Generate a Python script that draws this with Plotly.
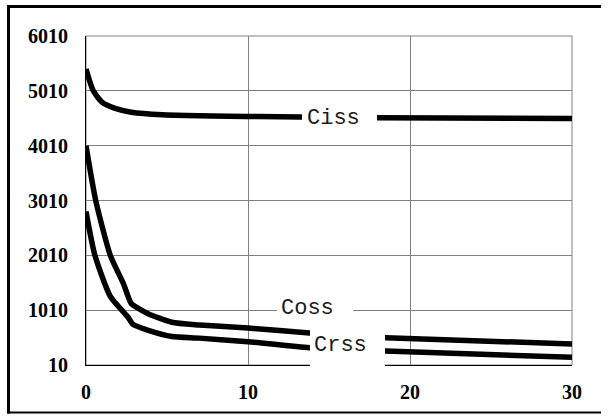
import plotly.graph_objects as go

# Data (x: 0..30, y in pF-like units)
ciss_x = [0, 0.45, 1.0, 1.8, 2.8, 4.7, 10.7, 18.0, 30]
ciss_y = [5410, 5010, 4800, 4690, 4620, 4575, 4540, 4520, 4505]

coss_x = [0, 0.6, 1.5, 2.3, 2.6, 2.8, 3.8, 5.3, 7.0, 10.0, 13.8, 18.5, 30]
coss_y = [4010, 3010, 2010, 1500, 1260, 1130, 950, 790, 740, 684, 593, 507, 393]

crss_x = [0, 0.55, 1.5, 2.3, 2.6, 2.9, 3.8, 5.3, 7.0, 10.0, 13.8, 18.5, 30]
crss_y = [2810, 2010, 1260, 980, 880, 750, 648, 530, 500, 435, 325, 265, 150]

y_ticks = [10, 1010, 2010, 3010, 4010, 5010, 6010]
x_ticks = [0, 10, 20, 30]

labels = ["Ciss", "Coss", "Crss"]
label_x = [15.25, 13.7, 15.68]
label_y = [4514, 1049, 374]

W, H = 609, 416
L, R, T, B = 86, 572, 36, 365


def px2paper_x(px):
    return (px - L) / (R - L)


def px2paper_y(py):
    return (B - py) / (B - T)


fig = go.Figure()
for xs, ys in [(ciss_x, ciss_y), (coss_x, coss_y), (crss_x, crss_y)]:
    fig.add_trace(go.Scatter(x=xs, y=ys, mode="lines",
                             line=dict(color="black", width=5.5, shape="spline", smoothing=0.6),
                             showlegend=False, hoverinfo="skip"))

shapes = [
    # plot frame (gray top/right)
    dict(type="rect", xref="paper", yref="paper", x0=0, x1=1, y0=0, y1=1,
         line=dict(color="#808080", width=1), layer="below"),
]
# outer border: left, top, bottom edges
bx0, bx1, by0, by1 = 8.5, 601, 6.5, 412.5
for (xa, ya, xb, yb, w) in [(bx0, by0 - 1.5, bx0, by1 + 1, 3),
                            (bx0 - 1.5, by0, bx1, by0, 3),
                            (bx0 - 1.5, by1, bx1, by1, 2)]:
    shapes.append(dict(type="line", xref="paper", yref="paper",
                       x0=px2paper_x(xa), x1=px2paper_x(xb),
                       y0=px2paper_y(ya), y1=px2paper_y(yb),
                       line=dict(color="black", width=w), layer="above"))
# white label boxes
for (x0, x1, y0, y1) in [(302, 377, 104, 132), (277, 353, 296, 324), (310, 385, 326, 368)]:
    shapes.append(dict(type="rect", xref="paper", yref="paper",
                       x0=px2paper_x(x0), x1=px2paper_x(x1),
                       y0=px2paper_y(y1), y1=px2paper_y(y0),
                       fillcolor="white", line=dict(width=0), layer="above"))

annotations = []
for t, xv, yv in zip(labels, label_x, label_y):
    annotations.append(dict(x=xv, y=yv, xref="x", yref="y", text=t, showarrow=False,
                            font=dict(family="Liberation Mono", size=22, color="#1a1a1a")))

fig.update_layout(
    width=W, height=H,
    margin=dict(l=L, r=W - R, t=T, b=H - B),
    paper_bgcolor="white", plot_bgcolor="white",
    shapes=shapes, annotations=annotations,
    xaxis=dict(range=[0, 30], tickvals=x_ticks, ticktext=[str(v) for v in x_ticks],
               showgrid=True, gridcolor="#808080", gridwidth=1, zeroline=False,
               showline=True, linecolor="black", linewidth=1, ticks="",
               ticklabelstandoff=9,
               tickfont=dict(family="Liberation Serif", size=20, color="black", weight="bold")),
    yaxis=dict(range=[10, 6010], tickvals=y_ticks, ticktext=[str(v) for v in y_ticks],
               showgrid=True, gridcolor="#808080", gridwidth=1, zeroline=False,
               showline=True, linecolor="black", linewidth=1, ticks="",
               ticklabelstandoff=13,
               tickfont=dict(family="Liberation Serif", size=20, color="black", weight="bold")),
)

fig.write_html("out.html", config={"displayModeBar": False},
               post_script="document.body.style.margin='0px';document.body.style.overflow='hidden';")
